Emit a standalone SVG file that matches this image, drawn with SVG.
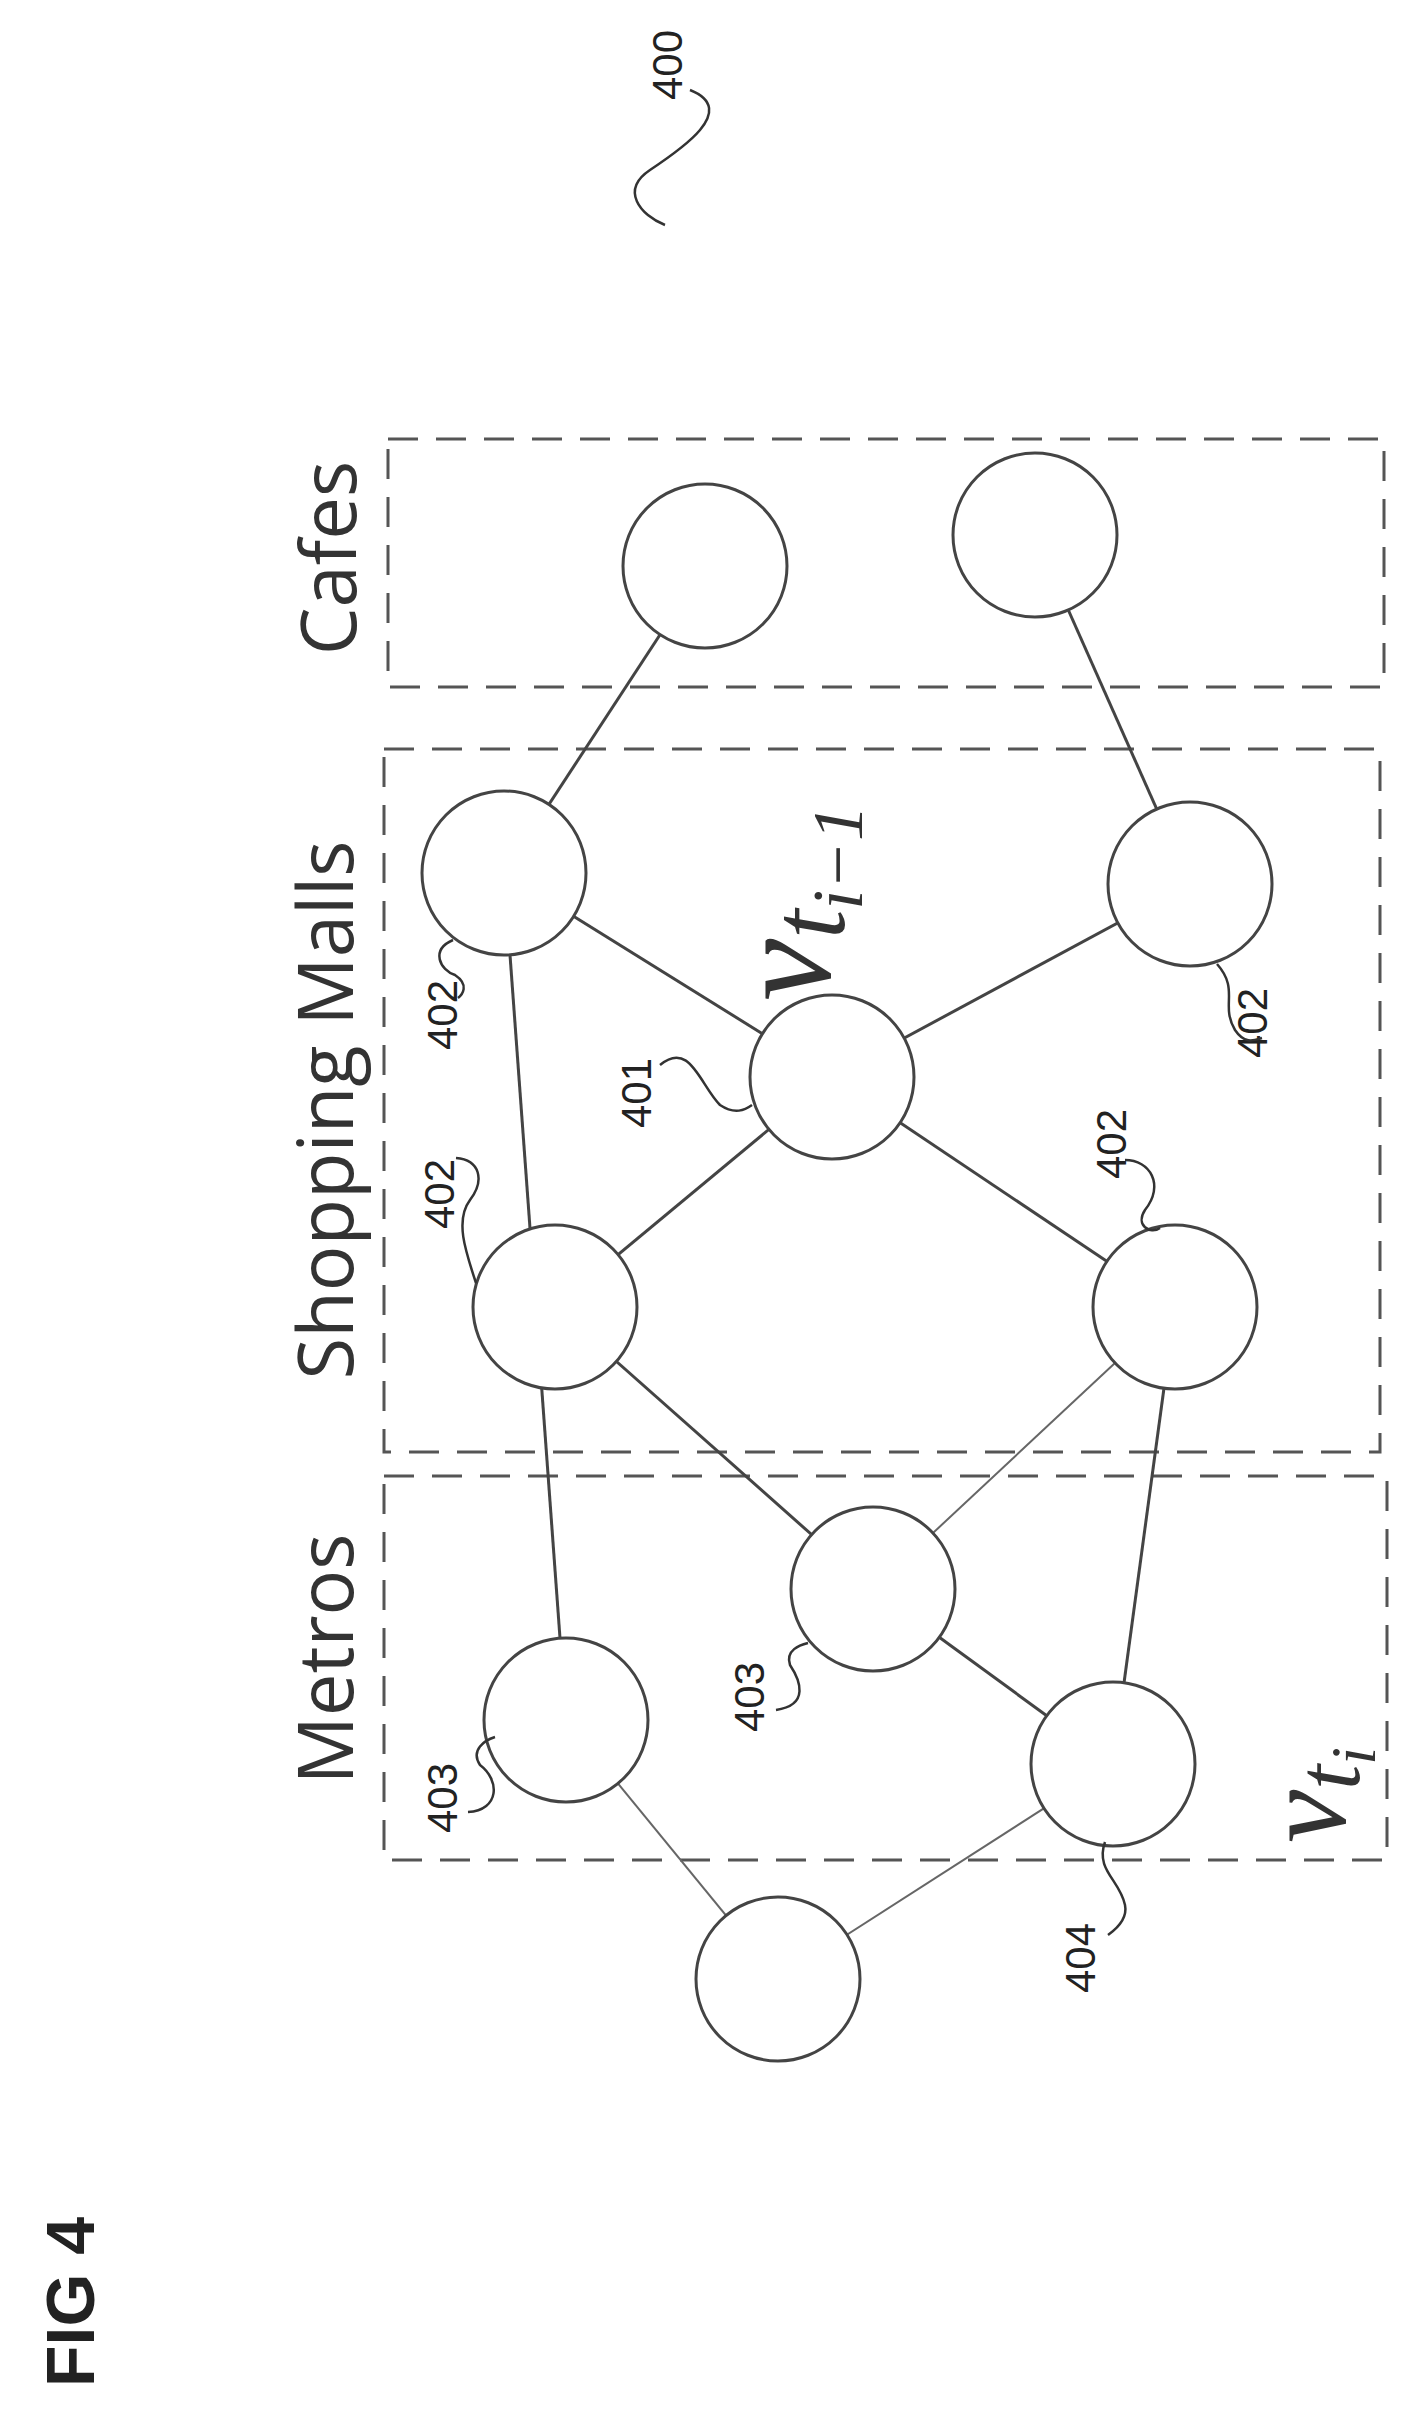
<svg xmlns="http://www.w3.org/2000/svg" width="1410" height="2425" viewBox="0 0 1410 2425">
<style>
.box{fill:none;stroke:#555;stroke-width:3;stroke-dasharray:30 18}
.n{fill:#fff;stroke:#444;stroke-width:3}
.e{stroke:#444;stroke-width:3}
.t{stroke:#666;stroke-width:2}
.ld{fill:none;stroke:#333;stroke-width:2.5}
.lab{font-family:"Open Sans","Liberation Sans",sans-serif;font-size:76px;fill:#333;text-anchor:middle}
.num{font-family:"Liberation Sans",sans-serif;font-size:42px;fill:#222;text-anchor:middle}
.v{font-family:"Liberation Serif",serif;font-style:italic;fill:#333;text-anchor:middle}
</style>
<g id="regions">
<rect class="box" x="388" y="439" width="996" height="248"/>
<rect class="box" x="384" y="749" width="996" height="703"/>
<rect class="box" x="384" y="1476" width="1003" height="384"/>
<text class="lab" transform="rotate(-90 356 558)" x="356" y="558">Cafes</text>
<text class="lab" transform="rotate(-90 353 1110)" x="353" y="1110">Shopping Malls</text>
<text class="lab" transform="rotate(-90 353 1659)" x="353" y="1659">Metros</text>
</g>
<g id="connectors">
<line class="e" x1="705" y1="566" x2="504" y2="873"/>
<line class="e" x1="1035" y1="535" x2="1190" y2="884"/>
<line class="e" x1="504" y1="873" x2="832" y2="1077"/>
<line class="e" x1="1190" y1="884" x2="832" y2="1077"/>
<line class="e" x1="832" y1="1077" x2="555" y2="1307"/>
<line class="e" x1="832" y1="1077" x2="1175" y2="1307"/>
<line class="e" x1="504" y1="873" x2="566" y2="1720"/>
<line class="e" x1="555" y1="1307" x2="873" y2="1589"/>
<line class="t" x1="1175" y1="1307" x2="873" y2="1589"/>
<line class="e" x1="1175" y1="1307" x2="1113" y2="1764"/>
<line class="e" x1="873" y1="1589" x2="1113" y2="1764"/>
<line class="t" x1="566" y1="1720" x2="778" y2="1979"/>
<line class="t" x1="1113" y1="1764" x2="778" y2="1979"/>
</g>
<g id="nodes">
<circle id="cafe1" class="n" cx="705" cy="566" r="82"/>
<circle id="cafe2" class="n" cx="1035" cy="535" r="82"/>
<circle id="mall1" class="n" cx="504" cy="873" r="82"/>
<circle id="mall2" class="n" cx="1190" cy="884" r="82"/>
<circle id="n401" class="n" cx="832" cy="1077" r="82"/>
<circle id="mall3" class="n" cx="555" cy="1307" r="82"/>
<circle id="mall4" class="n" cx="1175" cy="1307" r="82"/>
<circle id="metro1" class="n" cx="873" cy="1589" r="82"/>
<circle id="metro2" class="n" cx="566" cy="1720" r="82"/>
<circle id="n404" class="n" cx="1113" cy="1764" r="82"/>
<circle id="bottom" class="n" cx="778" cy="1979" r="82"/>
</g>
<g id="labels">
<text class="num" transform="rotate(-90 682 65)" x="682" y="65">400</text>
<path class="ld" d="M690 90 C740 110 680 150 650 170 C620 190 640 215 665 225"/>
<text class="num" transform="rotate(-90 457 1015)" x="457" y="1015">402</text>
<path class="ld" d="M453 940 C430 950 440 970 455 975 C470 985 462 995 458 998"/>
<text class="num" transform="rotate(-90 454 1194)" x="454" y="1194">402</text>
<path class="ld" d="M456 1158 C480 1160 485 1180 470 1200 C455 1220 465 1250 476 1283"/>
<text class="num" transform="rotate(-90 651 1093)" x="651" y="1093">401</text>
<text class="num" transform="rotate(-90 1126 1144)" x="1126" y="1144">402</text>
<text class="num" transform="rotate(-90 1267 1023)" x="1267" y="1023">402</text>
<text class="num" transform="rotate(-90 457 1798)" x="457" y="1798">403</text>
<text class="num" transform="rotate(-90 764 1697)" x="764" y="1697">403</text>
<text class="num" transform="rotate(-90 1095 1958)" x="1095" y="1958">404</text>
<path class="ld" d="M660 1065 C690 1040 700 1085 720 1105 C735 1115 745 1110 752 1105"/>
<path class="ld" d="M1125 1160 C1150 1160 1165 1185 1145 1210 C1135 1225 1150 1235 1160 1228"/>
<path class="ld" d="M1217 964 C1240 990 1220 1005 1235 1030 C1245 1045 1255 1040 1262 1038"/>
<path class="ld" d="M468 1812 C500 1810 500 1780 480 1765 C470 1750 485 1740 495 1737"/>
<path class="ld" d="M776 1710 C810 1705 800 1680 790 1665 C785 1650 800 1645 808 1643"/>
<path class="ld" d="M1105 1842 C1095 1870 1120 1880 1125 1905 C1128 1920 1115 1930 1108 1935"/>
<text class="v" font-size="140" transform="rotate(-90 830 903)" x="830" y="903">v<tspan font-size="105" dy="14">t</tspan><tspan font-size="72" dy="18">i−1</tspan></text>
<text class="v" font-size="120" transform="rotate(-90 1345 1795)" x="1345" y="1795">v<tspan font-size="90" dy="14">t</tspan><tspan font-size="64" dy="16">i</tspan></text>
<text transform="rotate(-90 94 2302)" x="94" y="2302" font-family="Liberation Sans,sans-serif" font-weight="bold" font-size="68" text-anchor="middle" fill="#222">FIG 4</text>
</g>
</svg>
